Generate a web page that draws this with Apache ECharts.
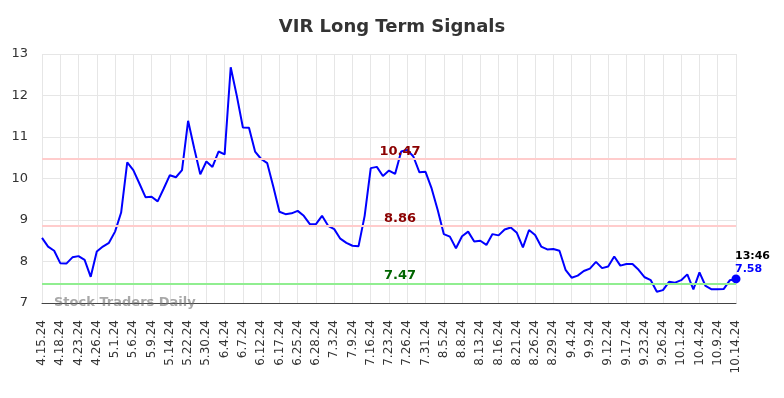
<!DOCTYPE html>
<html>
<head>
<meta charset="utf-8">
<script src="https://cdn.jsdelivr.net/npm/echarts@6/dist/echarts.min.js"></script>
<style>html,body{margin:0;padding:0;background:#fff}#c{width:784px;height:398px}</style>
</head>
<body>
<div id="c"></div>
<script>
var tickLabels = ['4.15.24','4.18.24','4.23.24','4.26.24','5.1.24','5.6.24','5.9.24','5.14.24','5.22.24','5.30.24','6.4.24','6.7.24','6.12.24','6.17.24','6.25.24','6.28.24','7.3.24','7.9.24','7.16.24','7.23.24','7.26.24','7.31.24','8.5.24','8.8.24','8.13.24','8.16.24','8.21.24','8.26.24','8.29.24','9.4.24','9.9.24','9.12.24','9.17.24','9.23.24','9.26.24','10.1.24','10.4.24','10.9.24','10.14.24'];
var prices = [8.57,8.36,8.26,7.96,7.95,8.10,8.13,8.04,7.63,8.24,
8.36,8.45,8.72,9.18,10.39,10.20,9.88,9.55,9.56,9.45,
9.76,10.08,10.03,10.20,11.39,10.73,10.10,10.41,10.28,10.65,
10.58,12.68,11.99,11.23,11.22,10.65,10.47,10.37,9.80,9.20,
9.14,9.16,9.22,9.10,8.90,8.90,9.10,8.86,8.78,8.55,
8.45,8.38,8.37,9.10,10.25,10.28,10.06,10.19,10.11,10.65,
10.69,10.53,10.15,10.16,9.76,9.24,8.66,8.60,8.32,8.61,
8.72,8.48,8.50,8.40,8.66,8.63,8.77,8.82,8.69,8.34,
8.76,8.64,8.36,8.29,8.30,8.26,7.80,7.61,7.66,7.77,
7.83,7.99,7.84,7.88,8.12,7.90,7.94,7.94,7.80,7.62,
7.55,7.27,7.31,7.51,7.49,7.55,7.69,7.33,7.74,7.41,
7.33,7.33,7.34,7.55,7.58];
var levelsRed = [10.47, 8.86];
var levelsGreen = [7.47];
var lastTime = '13:46';
var yTicks = {min: 7, max: 13, interval: 1};

var categories = prices.map(function(v, i){ return i % 3 === 0 ? tickLabels[i/3] : ''; });
var F = 'DejaVu Sans';
var n = prices.length;
var seriesData = prices.map(function(v, i){
  if (i === n - 1) {
    return {
      value: v, symbol: 'circle', symbolSize: 9,
      itemStyle: {color: '#0000ff'},
      label: {
        show: true, position: 'top', align: 'left', distance: 2, offset: [-1, 3],
        formatter: '{t|' + lastTime + '}\n{v|' + v.toFixed(2) + '}',
        rich: {
          t: {fontFamily: F, fontWeight: 'bold', fontSize: 11, color: '#000', lineHeight: 13},
          v: {fontFamily: F, fontWeight: 'bold', fontSize: 11, color: '#0000ff', lineHeight: 13}
        }
      }
    };
  }
  return {value: v, symbol: 'none'};
});

var markData = [];
levelsRed.forEach(function(l){
  markData.push({yAxis: l, lineStyle: {color: '#ffcccc', width: 2, type: 'solid'},
    label: {show: true, position: 'insideMiddleTop', distance: 1, offset: [11, 0], formatter: l.toFixed(2),
      color: '#8b0000', fontWeight: 'bold', fontSize: 13, fontFamily: F}});
});
levelsGreen.forEach(function(l){
  markData.push({yAxis: l, lineStyle: {color: '#90ee90', width: 2, type: 'solid'},
    label: {show: true, position: 'insideMiddleTop', distance: 1, offset: [11, 0], formatter: l.toFixed(2),
      color: '#006400', fontWeight: 'bold', fontSize: 13, fontFamily: F}});
});

var chart = echarts.init(document.getElementById('c'));
chart.setOption({
  animation: false,
  title: {text: 'VIR Long Term Signals', left: 'center', top: 13,
    textStyle: {fontFamily: F, fontSize: 18, fontWeight: 'bold', color: '#333'}},
  grid: {left: 42, right: 48, top: 54, bottom: 95},
  xAxis: {
    type: 'category', data: categories, boundaryGap: false,
    axisLine: {lineStyle: {color: '#444', width: 1}},
    axisTick: {show: false},
    axisLabel: {interval: 2, rotate: 90, margin: 17, fontFamily: F, fontSize: 12, color: '#333'},
    splitLine: {show: true, interval: 2, lineStyle: {color: '#e6e6e6', width: 1}}
  },
  yAxis: {
    type: 'value', min: yTicks.min, max: yTicks.max, interval: yTicks.interval,
    axisLine: {show: false}, axisTick: {show: false},
    axisLabel: {fontFamily: F, fontSize: 13, color: '#333', margin: 14},
    splitLine: {lineStyle: {color: '#e6e6e6', width: 1}}
  },
  graphic: [{type: 'text', left: 54, top: 296, z: 100,
    style: {text: 'Stock Traders Daily', fontFamily: F, fontSize: 13, fontWeight: 'bold', fill: 'rgba(110,110,110,0.6)'}}],
  series: [{
    type: 'line', data: seriesData, showSymbol: true,
    lineStyle: {color: '#0000ff', width: 2},
    itemStyle: {color: '#0000ff'},
    markLine: {silent: true, symbol: ['none', 'none'], data: markData},
    z: 3
  }]
});
</script>
</body>
</html>
